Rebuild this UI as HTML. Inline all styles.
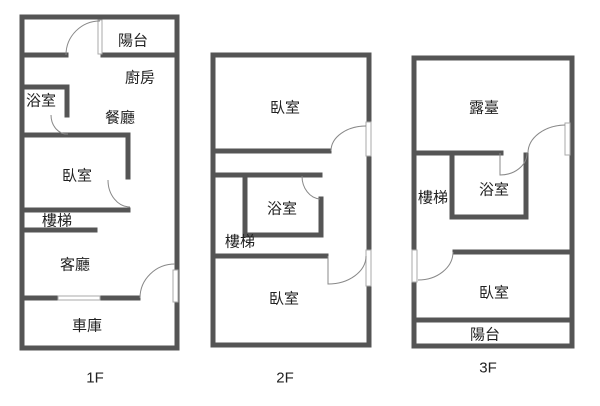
<!DOCTYPE html><html><head><style>body{margin:0;background:#fff}svg{display:block}text{font-family:"Liberation Sans","Noto Sans CJK TC",sans-serif;font-size:15px;fill:#222;text-anchor:middle;dominant-baseline:central}</style></head><body>
<svg width="600" height="406" viewBox="0 0 600 406">
<g stroke="#555" stroke-width="5" fill="none" stroke-linecap="square">
<rect x="22" y="17" width="155" height="331"/>
<line x1="22" y1="55" x2="66" y2="55"/><line x1="103" y1="55" x2="177" y2="55"/>
<polyline points="22,87 67,87 67,115"/>
<polyline points="22,135 128,135 128,177"/>
<line x1="22" y1="210" x2="128" y2="210"/>
<line x1="22" y1="230" x2="95" y2="230"/>
<line x1="22" y1="298" x2="58" y2="298"/><line x1="100" y1="298" x2="138" y2="298"/>
<rect x="213" y="55" width="156" height="290"/>
<line x1="213" y1="151" x2="329" y2="151"/>
<line x1="213" y1="175" x2="320" y2="175"/>
<polyline points="245,175 245,235 321,235 321,199"/>
<line x1="213" y1="256" x2="326" y2="256"/>
<rect x="414" y="58" width="158" height="288"/>
<line x1="414" y1="153" x2="501" y2="153"/>
<polyline points="452,155 452,217 526,217 526,155"/>
<line x1="455" y1="252" x2="572" y2="252"/>
<line x1="414" y1="320" x2="572" y2="320"/>
</g>
<g fill="#fff" stroke="#aaa" stroke-width="1">
<rect x="98" y="20" width="4" height="34"/>
<rect x="173" y="270" width="5" height="32"/>
<rect x="366" y="122" width="5" height="34"/>
<rect x="366" y="250" width="5" height="36"/>
<rect x="412" y="250" width="5" height="32"/>
<rect x="565" y="123" width="5" height="32"/>
<rect x="58" y="296" width="42" height="4"/>
</g>
<g stroke="#888" stroke-width="1" fill="none">
<path d="M66,55 A34,34 0 0 1 100,21"/>
<path d="M51,115 A16,19 0 0 0 68,134"/>
<path d="M108,180 A22,27 0 0 0 130,207"/>
<path d="M140,298 A35,34 0 0 1 175,264"/>
<path d="M331,151 A35,25 0 0 1 366,126"/>
<path d="M302,176 A19,23 0 0 0 320,199"/>
<path d="M328,256 L328,284 A38,28 0 0 0 366,256"/>
<path d="M500,153 L500,175 A27,22 0 0 0 527,153"/>
<path d="M528,153 A38,28 0 0 1 565,125"/>
<path d="M453,252 A35,28 0 0 1 418,280"/>
</g>
<text x="133" y="41">陽台</text><text x="140" y="78">廚房</text><text x="41" y="101">浴室</text><text x="120" y="118">餐廳</text><text x="77" y="176">臥室</text><text x="57" y="221">樓梯</text><text x="75" y="265">客廳</text><text x="87" y="326">車庫</text><text x="95" y="378">1F</text>
<text x="285" y="108">臥室</text><text x="282" y="209">浴室</text><text x="240" y="242">樓梯</text><text x="284" y="299">臥室</text><text x="285" y="378">2F</text>
<text x="484" y="108">露臺</text><text x="494" y="190">浴室</text><text x="433" y="198">樓梯</text><text x="494" y="293">臥室</text><text x="485" y="335">陽台</text><text x="488" y="368">3F</text>
</svg></body></html>
